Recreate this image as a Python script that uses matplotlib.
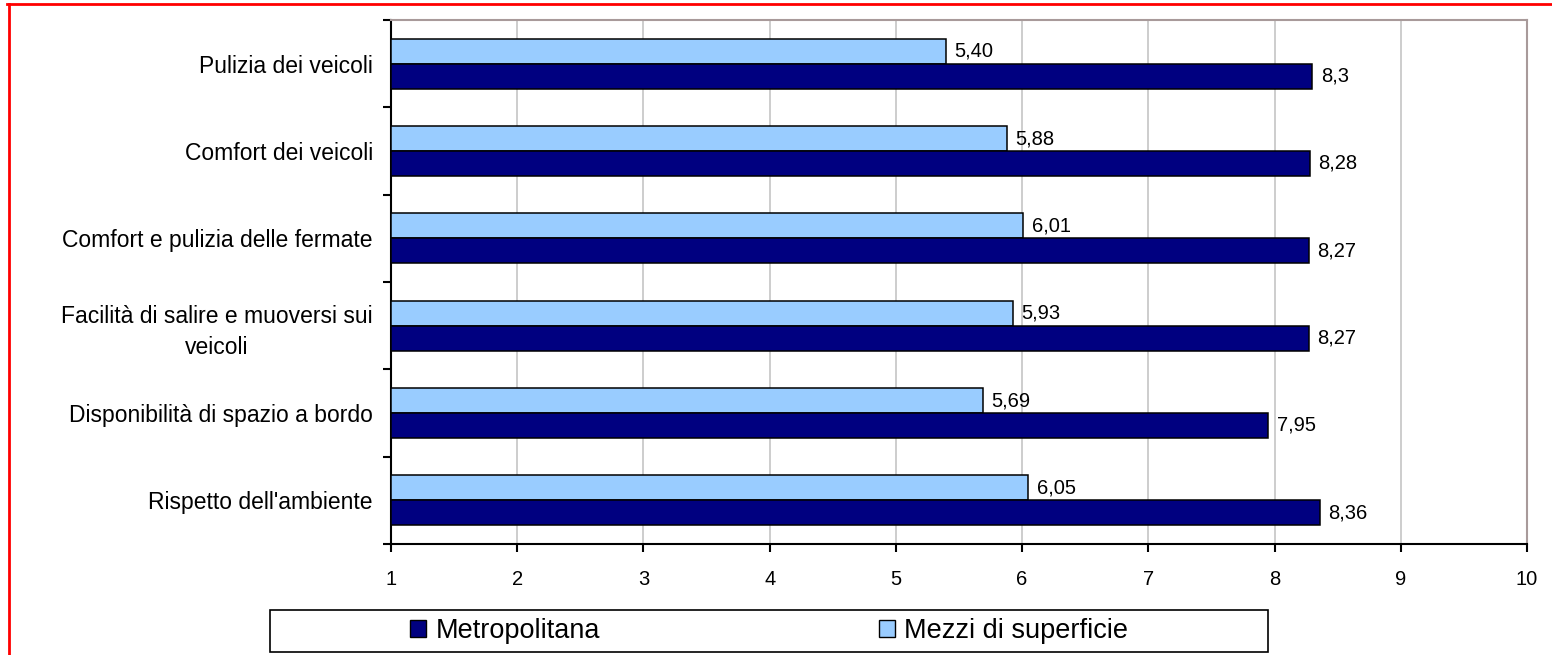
import matplotlib
matplotlib.use("Agg")
import matplotlib.pyplot as plt
from matplotlib.patches import Rectangle, Patch
from matplotlib.lines import Line2D
import numpy as np

plt.rcParams['font.family'] = ['Liberation Sans', 'DejaVu Sans']

# data
categories = ["Pulizia dei veicoli",
              "Comfort dei veicoli",
              "Comfort e pulizia delle fermate",
              "Facilità di salire e muoversi sui\nveicoli",
              "Disponibilità di spazio a bordo",
              "Rispetto dell'ambiente"]
metropolitana = [8.3, 8.28, 8.27, 8.27, 7.95, 8.36]
metro_labels = ["8,3", "8,28", "8,27", "8,27", "7,95", "8,36"]
superficie = [5.40, 5.88, 6.01, 5.93, 5.69, 6.05]
superficie_labels = ["5,40", "5,88", "6,01", "5,93", "5,69", "6,05"]
x_ticks = list(range(1, 11))

W, H = 1552, 655
fig = plt.figure(figsize=(W / 100, H / 100), dpi=100)
ax = fig.add_axes([391 / W, 1 - 544 / H, (1527 - 391) / W, (544 - 20) / H])

y = np.arange(len(categories))
h = 0.285
base = 1

ax.barh(y - h / 2, [v - base for v in superficie], height=h, left=base,
        color="#99CCFF", edgecolor="black", linewidth=1.1, zorder=3,
        label="Mezzi di superficie")
ax.barh(y + h / 2, [v - base for v in metropolitana], height=h, left=base,
        color="#000080", edgecolor="black", linewidth=1.1, zorder=3,
        label="Metropolitana")

for i in range(len(categories)):
    ax.annotate(superficie_labels[i], (superficie[i], y[i] - h / 2),
                xytext=(6, 0), textcoords="offset points",
                va="center", ha="left", fontsize=14.5)
    ax.annotate(metro_labels[i], (metropolitana[i], y[i] + h / 2),
                xytext=(6, 0), textcoords="offset points",
                va="center", ha="left", fontsize=14.5)

ax.set_xlim(1, 10)
ax.set_ylim(len(categories) - 0.5, -0.5)

ax.set_xticks(x_ticks)
ax.tick_params(axis="x", direction="out", length=6, width=1.5,
               pad=13, labelsize=14.5)
ax.xaxis.grid(True, color="#C0C0C0", linewidth=1.1, zorder=0)
ax.set_axisbelow(True)

ax.set_yticks(y)
ax.set_yticklabels(categories, fontsize=16.5, multialignment="center",
                   linespacing=1.45)
ax.set_yticks(np.arange(-0.5, len(categories)), minor=True)
ax.tick_params(axis="y", which="major", length=0, pad=13)
ax.tick_params(axis="y", which="minor", direction="out", length=6, width=1.5)

for s in ("left", "bottom"):
    ax.spines[s].set_color("black")
    ax.spines[s].set_linewidth(1.5)
for s in ("top", "right"):
    ax.spines[s].set_color("#A89A9A")
    ax.spines[s].set_linewidth(1.5)

# legend with its own box
fig.patches.append(Rectangle((270 / W, 3 / H), 998 / W, 42 / H,
                             transform=fig.transFigure, fill=False,
                             edgecolor="black", linewidth=1.2))
handles = [Patch(facecolor="#000080", edgecolor="black", linewidth=1.0),
           Patch(facecolor="#99CCFF", edgecolor="black", linewidth=1.0)]
fig.legend(handles, ["Metropolitana", "Mezzi di superficie"],
           loc="center", bbox_to_anchor=(769 / W, 1 - 631 / H), ncol=2,
           frameon=False, fontsize=19.5, handlelength=0.6, handleheight=0.6,
           handletextpad=0.33, columnspacing=10.3)

# red frame
fig.lines.append(Line2D([7 / W, 1], [1 - 4 / H, 1 - 4 / H],
                        transform=fig.transFigure, color="red", linewidth=2))
fig.lines.append(Line2D([8.5 / W, 8.5 / W], [0, 1 - 4 / H],
                        transform=fig.transFigure, color="red", linewidth=2))

fig.savefig("out.png", dpi=100)
